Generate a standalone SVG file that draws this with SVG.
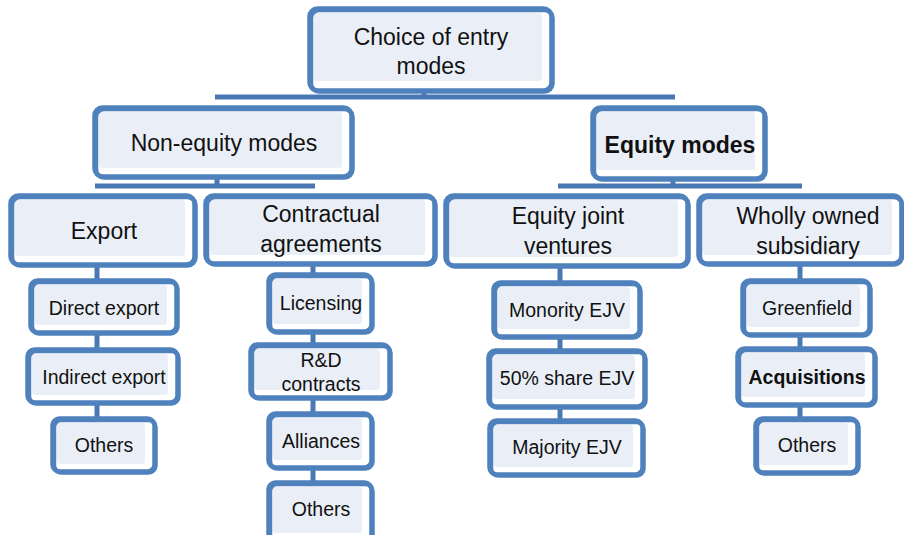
<svg xmlns="http://www.w3.org/2000/svg" width="904" height="535" viewBox="0 0 904 535">
<defs>
<style>
.bg{fill:#ffffff;stroke:none}
.f{fill:#eaeff7;stroke:none}
.b{fill:none;stroke:#4f81bd;stroke-width:4.5;stroke-linejoin:round}
.c{fill:none;stroke:#4a78b4;stroke-width:5}
text{font-family:"Liberation Sans",Arial,sans-serif;fill:#111;text-anchor:middle}
.t1{font-size:23px}
.t2{font-size:19.5px}
.bd{font-weight:bold}
</style>
</defs>
<g id="connectors">
<path class="c" d="M424 91V97M215 97H675"/>
<path class="c" d="M217 177V186M95 186H315"/>
<path class="c" d="M673 179V186M558 186H802"/>
<path class="c" d="M97 265V281M97 333V350M97 403V419"/>
<path class="c" d="M313 264V275M313 332V345M313 398V414M313 468V483"/>
<path class="c" d="M560 266V283M560 337V351M560 407V421"/>
<path class="c" d="M800 264V281M800 335V349M800 405V419"/>
</g>
<g id="n-root">
<rect class="bg" x="309" y="8" width="244" height="84" rx="8"/>
<rect class="f" x="314" y="13" width="228" height="68" rx="3"/>
<rect class="b" x="309.5" y="8.5" width="242" height="82" rx="8"/>
<rect class="b" x="311" y="10" width="241.5" height="81.5" rx="8"/>
<text class="t1" x="431" y="45">Choice of entry</text>
<text class="t1" x="431" y="74">modes</text>
</g>
<g id="n-nonequity">
<rect class="bg" x="94" y="107" width="259" height="71" rx="8"/>
<rect class="f" x="99" y="112" width="243" height="56" rx="3"/>
<rect class="b" x="94.5" y="107.5" width="257" height="69" rx="8"/>
<rect class="b" x="96" y="109" width="256.5" height="68.5" rx="8"/>
<text class="t1" x="224" y="151">Non-equity modes</text>
</g>
<g id="n-equity">
<rect class="bg" x="592" y="107" width="174" height="73" rx="8"/>
<rect class="f" x="597" y="112" width="158" height="58" rx="3"/>
<rect class="b" x="592.5" y="107.5" width="172" height="71" rx="8"/>
<rect class="b" x="594" y="109" width="171.5" height="70.5" rx="8"/>
<text class="t1 bd" x="680" y="153">Equity modes</text>
</g>
<g id="n-export">
<rect class="bg" x="10" y="195" width="186" height="71" rx="8"/>
<rect class="f" x="15" y="200" width="170" height="56" rx="3"/>
<rect class="b" x="10.5" y="195.5" width="184" height="69" rx="8"/>
<rect class="b" x="12" y="197" width="183.5" height="68.5" rx="8"/>
<text class="t1" x="104" y="239">Export</text>
</g>
<g id="n-contractual">
<rect class="bg" x="205" y="195" width="231" height="70" rx="8"/>
<rect class="f" x="210" y="200" width="215" height="55" rx="3"/>
<rect class="b" x="205.5" y="195.5" width="229" height="68" rx="8"/>
<rect class="b" x="207" y="197" width="228.5" height="67.5" rx="8"/>
<text class="t1" x="321" y="222">Contractual</text>
<text class="t1" x="321" y="252">agreements</text>
</g>
<g id="n-ejv">
<rect class="bg" x="445" y="195" width="244" height="72" rx="8"/>
<rect class="f" x="450" y="200" width="228" height="57" rx="3"/>
<rect class="b" x="445.5" y="195.5" width="242" height="70" rx="8"/>
<rect class="b" x="447" y="197" width="241.5" height="69.5" rx="8"/>
<text class="t1" x="568" y="224">Equity joint</text>
<text class="t1" x="568" y="254">ventures</text>
</g>
<g id="n-wos">
<rect class="bg" x="698" y="195" width="205" height="70" rx="8"/>
<rect class="f" x="703" y="200" width="189" height="55" rx="3"/>
<rect class="b" x="698.5" y="195.5" width="203" height="68" rx="8"/>
<rect class="b" x="700" y="197" width="202" height="67.5" rx="8"/>
<text class="t1" x="808" y="224">Wholly owned</text>
<text class="t1" x="808" y="254">subsidiary</text>
</g>
<g id="n-direct">
<rect class="bg" x="30" y="280" width="148" height="54" rx="7"/>
<rect class="f" x="35" y="285" width="132" height="40" rx="3"/>
<rect class="b" x="30.5" y="280.5" width="146" height="52" rx="7"/>
<rect class="b" x="32" y="282" width="145.5" height="51.5" rx="7"/>
<text class="t2" x="104" y="315">Direct export</text>
</g>
<g id="n-indirect">
<rect class="bg" x="27" y="349" width="152" height="55" rx="7"/>
<rect class="f" x="32" y="354" width="136" height="41" rx="3"/>
<rect class="b" x="27.5" y="349.5" width="150" height="53" rx="7"/>
<rect class="b" x="29" y="351" width="149.5" height="52.5" rx="7"/>
<text class="t2" x="104" y="384">Indirect export</text>
</g>
<g id="n-others1">
<rect class="bg" x="52" y="418" width="104" height="55" rx="7"/>
<rect class="f" x="57" y="423" width="88" height="41" rx="3"/>
<rect class="b" x="52.5" y="418.5" width="102" height="53" rx="7"/>
<rect class="b" x="54" y="420" width="101.5" height="52.5" rx="7"/>
<text class="t2" x="104" y="452">Others</text>
</g>
<g id="n-licensing">
<rect class="bg" x="268" y="274" width="105" height="59" rx="7"/>
<rect class="f" x="273" y="279" width="89" height="45" rx="3"/>
<rect class="b" x="268.5" y="274.5" width="103" height="57" rx="7"/>
<rect class="b" x="270" y="276" width="102.5" height="56.5" rx="7"/>
<text class="t2" x="321" y="310">Licensing</text>
</g>
<g id="n-rd">
<rect class="bg" x="250" y="344" width="141" height="55" rx="7"/>
<rect class="f" x="255" y="349" width="125" height="41" rx="3"/>
<rect class="b" x="250.5" y="344.5" width="139" height="53" rx="7"/>
<rect class="b" x="252" y="346" width="138.5" height="52.5" rx="7"/>
<text class="t2" x="321" y="367">R&amp;D</text>
<text class="t2" x="321" y="391">contracts</text>
</g>
<g id="n-alliances">
<rect class="bg" x="268" y="413" width="105" height="56" rx="7"/>
<rect class="f" x="273" y="418" width="89" height="42" rx="3"/>
<rect class="b" x="268.5" y="413.5" width="103" height="54" rx="7"/>
<rect class="b" x="270" y="415" width="102.5" height="53.5" rx="7"/>
<text class="t2" x="321" y="448">Alliances</text>
</g>
<g id="n-others2">
<rect class="bg" x="268" y="482" width="105" height="60" rx="7"/>
<rect class="f" x="273" y="487" width="89" height="46" rx="3"/>
<rect class="b" x="268.5" y="482.5" width="103" height="58" rx="7"/>
<rect class="b" x="270" y="484" width="102.5" height="57.5" rx="7"/>
<text class="t2" x="321" y="516">Others</text>
</g>
<g id="n-minority">
<rect class="bg" x="493" y="282" width="148" height="56" rx="7"/>
<rect class="f" x="498" y="287" width="132" height="42" rx="3"/>
<rect class="b" x="493.5" y="282.5" width="146" height="54" rx="7"/>
<rect class="b" x="495" y="284" width="145.5" height="53.5" rx="7"/>
<text class="t2" x="567" y="317">Monority EJV</text>
</g>
<g id="n-fifty">
<rect class="bg" x="488" y="350" width="158" height="58" rx="7"/>
<rect class="f" x="493" y="355" width="142" height="44" rx="3"/>
<rect class="b" x="488.5" y="350.5" width="156" height="56" rx="7"/>
<rect class="b" x="490" y="352" width="155.5" height="55.5" rx="7"/>
<text class="t2" x="567" y="385">50% share EJV</text>
</g>
<g id="n-majority">
<rect class="bg" x="489" y="420" width="155" height="56" rx="7"/>
<rect class="f" x="494" y="425" width="139" height="42" rx="3"/>
<rect class="b" x="489.5" y="420.5" width="153" height="54" rx="7"/>
<rect class="b" x="491" y="422" width="152.5" height="53.5" rx="7"/>
<text class="t2" x="567" y="454">Majority EJV</text>
</g>
<g id="n-greenfield">
<rect class="bg" x="742" y="280" width="129" height="56" rx="7"/>
<rect class="f" x="747" y="285" width="113" height="42" rx="3"/>
<rect class="b" x="742.5" y="280.5" width="127" height="54" rx="7"/>
<rect class="b" x="744" y="282" width="126.5" height="53.5" rx="7"/>
<text class="t2" x="807" y="315">Greenfield</text>
</g>
<g id="n-acquisitions">
<rect class="bg" x="737" y="348" width="139" height="58" rx="7"/>
<rect class="f" x="742" y="353" width="123" height="44" rx="3"/>
<rect class="b" x="737.5" y="348.5" width="137" height="56" rx="7"/>
<rect class="b" x="739" y="350" width="136.5" height="55.5" rx="7"/>
<text class="t2 bd" x="807" y="384">Acquisitions</text>
</g>
<g id="n-others3">
<rect class="bg" x="755" y="418" width="104" height="56" rx="7"/>
<rect class="f" x="760" y="423" width="88" height="42" rx="3"/>
<rect class="b" x="755.5" y="418.5" width="102" height="54" rx="7"/>
<rect class="b" x="757" y="420" width="101.5" height="53.5" rx="7"/>
<text class="t2" x="807" y="452">Others</text>
</g>
</svg>
